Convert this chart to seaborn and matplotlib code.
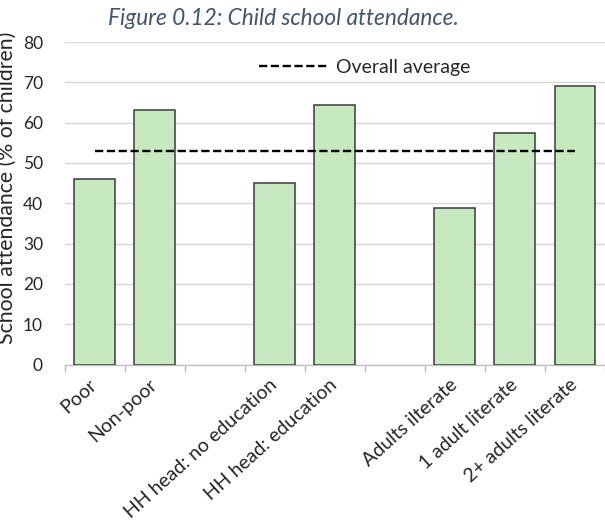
import seaborn as sns
import matplotlib.pyplot as plt
import pandas as pd

# Data
categories = ["Poor", "Non-poor", "HH head: no education", "HH head: education",
              "Adults ilterate", "1 adult literate", "2+ adults literate"]
attendance = [46.1, 63.2, 45.0, 64.4, 38.9, 57.5, 69.1]
overall_average = 53.0

# slot order, with empty slots separating the groups
order = ["Poor", "Non-poor", "gap1", "HH head: no education", "HH head: education",
         "gap2", "Adults ilterate", "1 adult literate", "2+ adults literate"]
tick_labels = [c if not c.startswith("gap") else "" for c in order]
y_ticks = [0, 10, 20, 30, 40, 50, 60, 70, 80]

sns.set_theme(style="white")
plt.rcParams['font.family'] = ['Lato', 'DejaVu Sans']

df = pd.DataFrame({"group": categories, "value": attendance})
avg = pd.DataFrame({"pos": list(range(len(order))), "value": [overall_average] * len(order)})

fig = plt.figure(figsize=(6.05, 5.23), dpi=100)
ax = fig.add_axes([64.5 / 605, 1 - 364.5 / 523, 1 - 64.5 / 605, (364.5 - 42) / 523])

sns.barplot(data=df, x="group", y="value", order=order, color="#C6E9C0", saturation=1,
            edgecolor="#3A3A3A", linewidth=1.1, width=0.68, ax=ax, zorder=3)
sns.lineplot(data=avg, x="pos", y="value", color="black", linewidth=1.7,
             dashes=False, ax=ax, zorder=4, label="Overall average")
ax.lines[-1].set_dashes((3.5, 1.5))

ax.set_xlim(-0.5, len(order) - 0.5)
ax.set_ylim(0, 80)
ax.set_yticks(y_ticks)
ax.set_yticklabels([str(t) for t in y_ticks], fontsize=12.5)
ax.yaxis.grid(True, color="#D9D9D9", linewidth=1)
ax.set_axisbelow(True)
ax.set_xlabel("")
ax.set_ylabel("")

ax.set_xticks(range(len(order)))
ax.set_xticklabels(tick_labels, rotation=42, ha="right", va="center",
                   rotation_mode="anchor", fontsize=14)
ax.set_xticks([i - 0.5 for i in range(len(order) + 1)], minor=True)
ax.tick_params(axis="x", which="major", length=0, pad=13)
ax.tick_params(axis="x", which="minor", length=5, color="#BFBFBF", width=1, bottom=True)
ax.tick_params(axis="y", length=0, pad=15.5)

for side in ["top", "right", "left"]:
    ax.spines[side].set_visible(False)
ax.spines["bottom"].set_color("#BFBFBF")
ax.spines["bottom"].set_linewidth(1)

ax.legend(loc="center left", bbox_to_anchor=(259 / 605, 1 - 67 / 523),
          bbox_transform=fig.transFigure, frameon=False, fontsize=14,
          handlelength=3.55, handletextpad=0.4, borderpad=0, borderaxespad=0)

fig.text(283 / 605, 1 - 25 / 523, "Figure 0.12: Child school attendance.", ha="center",
         va="baseline", fontsize=16.3, style="italic", color="#44546A")
fig.text(16.5 / 605, 1 - 188 / 523, "School attendance (% of children)", rotation=90,
         ha="right", va="center", fontsize=15.3)

plt.savefig("out.png", dpi=100)
